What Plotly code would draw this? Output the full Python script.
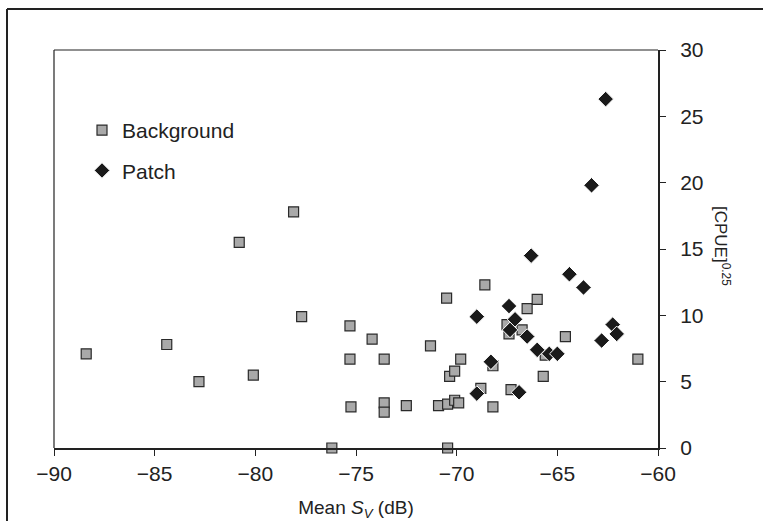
import plotly.graph_objects as go

# Background (squares)
bg_x = [-88.4, -84.4, -82.8, -80.8, -80.1, -78.1, -77.7, -76.2, -75.3, -75.3,
        -75.25, -74.2, -73.6, -73.6, -73.6, -72.5, -71.3, -70.9, -70.5, -70.45,
        -70.45, -70.35, -70.1, -70.1, -69.9, -69.8, -68.8, -68.6, -68.2, -68.2,
        -67.5, -67.4, -67.3, -66.75, -66.5, -66.0, -65.7, -65.6, -64.6, -61.0]
bg_y = [7.1, 7.8, 5.0, 15.5, 5.5, 17.8, 9.9, 0.0, 9.2, 6.7,
        3.1, 8.2, 6.7, 3.4, 2.7, 3.2, 7.7, 3.2, 11.3, 3.3,
        0.0, 5.4, 5.8, 3.6, 3.4, 6.7, 4.5, 12.3, 3.1, 6.2,
        9.3, 8.6, 4.4, 8.9, 10.5, 11.2, 5.4, 7.0, 8.4, 6.7]

# Patch (diamonds)
patch_x = [-69.0, -67.4, -67.1, -67.35, -66.5, -66.0, -65.4, -65.0, -68.3, -69.0,
           -66.9, -66.3, -64.4, -63.7, -62.8, -62.25, -62.05, -62.6, -63.3]
patch_y = [9.9, 10.7, 9.7, 8.9, 8.4, 7.4, 7.1, 7.1, 6.5, 4.1,
           4.2, 14.5, 13.1, 12.1, 8.1, 9.3, 8.6, 26.3, 19.8]

x_ticks = [-90, -85, -80, -75, -70, -65, -60]
y_ticks = [0, 5, 10, 15, 20, 25, 30]

FONT = "Liberation Sans, Arial, sans-serif"
INK = "#222222"

fig = go.Figure()
fig.add_trace(go.Scatter(
    x=bg_x, y=bg_y, mode="markers", name="Background", legendgroup="a",
    cliponaxis=False,
    marker=dict(symbol="square", size=10, color="#a9a9a9",
                line=dict(color="#2a2a2a", width=1.2)),
))
fig.add_trace(go.Scatter(
    x=patch_x, y=patch_y, mode="markers", name="Patch", legendgroup="b",
    cliponaxis=False,
    marker=dict(symbol="diamond", size=12, color="#1a1a1a",
                line=dict(color="white", width=1)),
))

L, R, T, B = 54, 105, 50, 73
W, H = 763, 521
pw, ph = W - L - R, H - T - B

def px2x(p):
    return (p - L) / pw

def px2y(p):
    return (H - B - p) / ph

fig.update_layout(
    width=W, height=H,
    margin=dict(l=L, r=R, t=T, b=B, autoexpand=False),
    paper_bgcolor="white", plot_bgcolor="white",
    font=dict(family=FONT, color=INK, size=21),
    showlegend=True,
    legend=dict(
        x=px2x(82), y=px2y(110), xanchor="left", yanchor="top",
        bgcolor="rgba(0,0,0,0)", font=dict(size=21, color=INK),
        traceorder="grouped", tracegroupgap=10, itemwidth=30,
    ),
    xaxis=dict(
        range=[-90, -60], tickvals=x_ticks, ticktext=[f"\u2212{abs(v)}" for v in x_ticks],
        showgrid=False, zeroline=False, automargin=False,
        showline=True, linecolor=INK, linewidth=2,
        ticks="outside", ticklen=6, tickwidth=1, tickcolor=INK,
        tickfont=dict(size=21, color=INK),
        title=dict(text="Mean <i>S</i><sub><i>V</i></sub> (dB)",
                   font=dict(size=19, color=INK), standoff=18),
    ),
    yaxis=dict(
        range=[0, 30], tickvals=y_ticks, side="right",
        showgrid=False, zeroline=False, automargin=False,
        showline=True, linecolor=INK, linewidth=2,
        ticks="outside", ticklen=6, tickwidth=1, tickcolor=INK,
        tickfont=dict(size=21, color=INK), ticklabelstandoff=10,
    ),
)

# thin frame (top and left sides of plot area)
fig.add_shape(type="line", xref="paper", yref="paper", x0=0, x1=1, y0=1, y1=1,
              line=dict(color=INK, width=1.2), layer="below")
fig.add_shape(type="line", xref="paper", yref="paper", x0=0, x1=0, y0=0, y1=1,
              line=dict(color=INK, width=1.2), layer="below")
# outer frame of the figure (cropped at right and bottom)
fig.add_shape(type="line", xref="paper", yref="paper",
              x0=px2x(7), x1=px2x(800), y0=px2y(9), y1=px2y(9),
              line=dict(color=INK, width=2))
fig.add_shape(type="line", xref="paper", yref="paper",
              x0=px2x(7), x1=px2x(7), y0=px2y(9), y1=px2y(560),
              line=dict(color=INK, width=2))

fig.add_annotation(
    xref="paper", yref="paper", x=px2x(722), y=px2y(246),
    text="[CPUE]<sup>0.25</sup>", textangle=90, showarrow=False,
    font=dict(size=17, color=INK), xanchor="center", yanchor="middle",
)

fig.write_html(
    "out.html",
    config={"displayModeBar": False},
    post_script="document.body.style.margin='0';document.body.style.overflow='hidden';",
)
